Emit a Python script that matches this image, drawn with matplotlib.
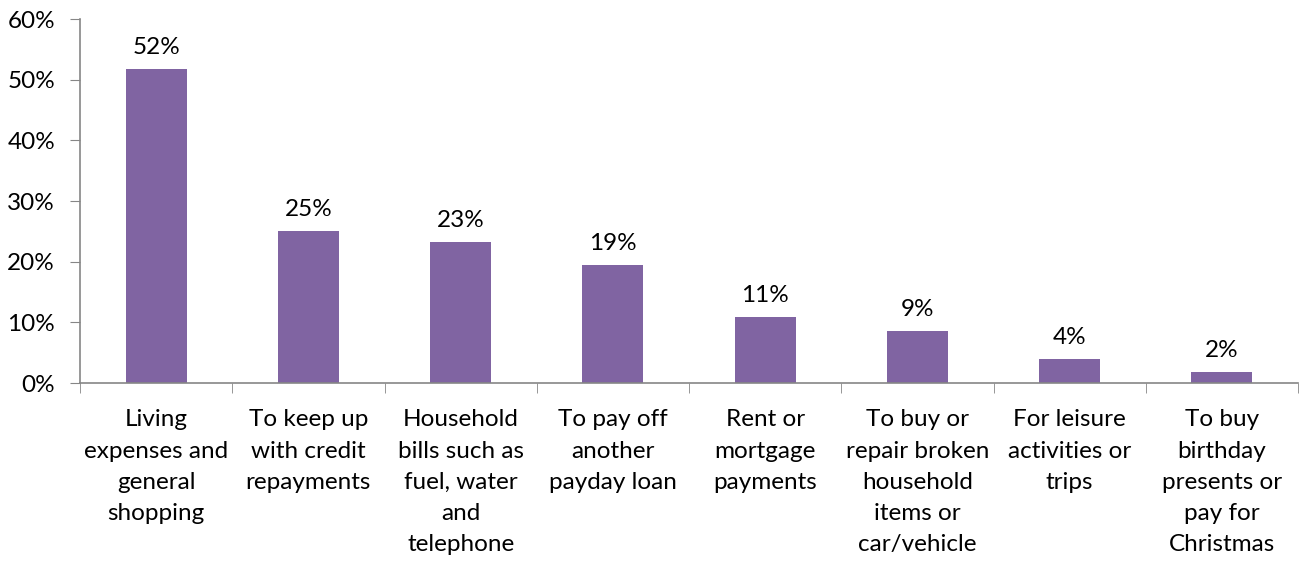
import matplotlib
matplotlib.use("Agg")
import matplotlib.pyplot as plt
import numpy as np
from matplotlib.ticker import FixedLocator, PercentFormatter

categories = [
    "Living\nexpenses and\ngeneral\nshopping",
    "To keep up\nwith credit\nrepayments",
    "Household\nbills such as\nfuel, water\nand\ntelephone",
    "To pay off\nanother\npayday loan",
    "Rent or\nmortgage\npayments",
    "To buy or\nrepair broken\nhousehold\nitems or\ncar/vehicle",
    "For leisure\nactivities or\ntrips",
    "To buy\nbirthday\npresents or\npay for\nChristmas",
]
values = [51.7, 25.0, 23.2, 19.4, 10.9, 8.5, 3.9, 1.8]
labels = ["52%", "25%", "23%", "19%", "11%", "9%", "4%", "2%"]
yticks = [0, 10, 20, 30, 40, 50, 60]

plt.rcParams['font.family'] = ['Lato', 'DejaVu Sans']
W, H = 1303, 562
fig = plt.figure(figsize=(W/100, H/100), dpi=100)
ax = fig.add_axes([80/W, (H-383)/H, (1298-80)/W, (383-19)/H])

FS = 17.5
x = np.arange(len(categories))
ax.bar(x, values, width=0.40, color="#8064A2")
for xi, v, lab in zip(x, values, labels):
    ax.annotate(lab, (xi, v), xytext=(0, 8), textcoords="offset points",
                ha="center", va="bottom", fontsize=FS, color="#000000")

ax.set_xlim(-0.5, len(categories) - 0.5)
ax.set_ylim(0, 60)
ax.set_yticks(yticks)
ax.yaxis.set_major_formatter(PercentFormatter(decimals=0))
ax.set_xticks(x)
ax.set_xticklabels(categories, fontsize=FS, linespacing=1.6)
ax.xaxis.set_minor_locator(FixedLocator(np.arange(-0.5, len(categories), 1.0)))
ax.tick_params(axis="x", which="major", length=0, pad=19)
ax.tick_params(axis="x", which="minor", length=7, color="#868686", direction="out")
ax.tick_params(axis="y", length=7, color="#868686", labelsize=FS, pad=11)
for s in ["top", "right"]:
    ax.spines[s].set_visible(False)
for s in ["left", "bottom"]:
    ax.spines[s].set_color("#868686")
    ax.spines[s].set_linewidth(1.2)

fig.savefig("out.png", dpi=100)
